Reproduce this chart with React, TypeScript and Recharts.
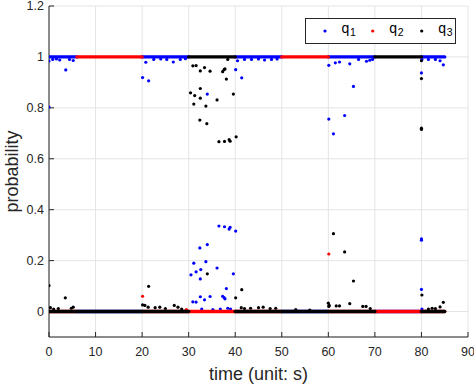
import { CartesianGrid, ComposedChart, Scatter, XAxis, YAxis } from "recharts";

type Run = [number, number, number]; // from, to, level
type Pt = [number, number]; // time, probability

const xTicks = [0, 10, 20, 30, 40, 50, 60, 70, 80, 90];
const yTicks = [0, 0.2, 0.4, 0.6, 0.8, 1, 1.2];

// stretches where a series sits flat on 0 or 1 (dense dots in the original)
const q1Runs: Run[] = [
  [0, 6, 1], [20, 30, 1], [40, 50, 1], [60, 70, 1], [80, 85, 1],
  [6, 20, 0], [50, 60, 0], [70, 80, 0],
];
const q2Runs: Run[] = [
  [6, 20, 1], [50, 60, 1],
  [0, 6, 0], [20, 30, 0], [30, 40, 0], [40, 50, 0], [60, 70, 0], [70, 80, 0], [80, 85, 0],
];
const q3Runs: Run[] = [
  [30, 40, 1], [70, 80, 1],
  [0, 30, 0], [40, 70, 0], [80, 85, 0],
];

const q1Points: Pt[] = [
  [0, 0.803], [0, 0.984], [0.8, 0.99], [1.6, 0.992], [2.3, 0.988], [3.6, 0.949], [4.4, 0.99], [5.2, 0.986],
  [20.1, 0.919], [20.8, 0.979], [21.4, 0.906], [22.5, 0.99], [24, 0.992], [25.3, 0.99], [26.7, 0.98], [28.2, 0.99], [29.3, 0.993],
  [30.5, 0.144], [31.1, 0.19], [31.6, 0.156], [32.4, 0.25], [32.6, 0.165], [32.5, 0.128], [33.7, 0.196], [34.0, 0.263],
  [36.1, 0.171], [36.5, 0.336], [37.7, 0.333], [38.7, 0.324], [38.9, 0.331], [40.1, 0.316], [39.6, 0.148],
  [30.9, 0.038], [31.6, 0.037], [32.5, 0.058], [33.4, 0.046], [34.6, 0.059], [37.3, 0.06], [37.6, 0.055], [37.8, 0.05],
  [38.1, 0.09], [38.4, 0.013], [32.8, 0.01], [35.2, 0.008], [36.8, 0.01], [39, 0.01],
  [34.0, 0.854], [40.1, 0.95],
  [41.4, 0.918], [40.5, 0.985], [42, 0.99], [43.5, 0.99], [45, 0.992], [46.3, 0.988], [47.8, 0.99], [49, 0.992],
  [60.1, 0.967], [60.1, 0.756], [61.1, 0.698], [63.5, 0.77], [64.6, 0.973], [65.4, 0.884], [61.5, 0.977], [62.4, 0.98],
  [66.5, 0.99], [68.2, 0.983], [68.9, 0.987], [69.5, 0.99],
  [80, 0.937], [80, 0.285], [80, 0.28], [80, 0.087], [80.1, 0.99], [81.5, 0.99], [83, 0.99], [84, 0.985], [84.7, 0.969], [80.1, 0.01],
];

const q2Points: Pt[] = [
  [20.1, 0.06], [29.5, 0.008], [60.1, 0.226],
];

const q3Points: Pt[] = [
  [0, 0.102], [3.5, 0.054], [0.3, 0.015], [1, 0.01], [2, 0.012], [4.8, 0.013], [5.2, 0.017],
  [20.1, 0.026], [20.6, 0.024], [21.4, 0.099], [21.3, 0.017], [22.8, 0.015], [23.8, 0.017], [25, 0.012],
  [26.9, 0.024], [27.7, 0.017], [28.5, 0.01],
  [30.9, 0.965], [31.6, 0.966], [32.5, 0.945], [33.4, 0.958], [34.6, 0.944], [37.3, 0.942], [37.6, 0.95],
  [37.8, 0.953], [38.1, 0.913], [39.6, 0.854], [30.4, 0.859], [31.3, 0.848], [32.5, 0.876], [32.5, 0.838],
  [31.1, 0.815], [33.7, 0.807], [32.4, 0.752], [33.9, 0.738], [36.1, 0.831], [36.5, 0.667], [37.7, 0.668],
  [38.7, 0.675], [38.9, 0.669], [40.2, 0.686], [38.4, 0.99],
  [34.0, 0.148], [40.1, 0.054], [41.4, 0.086],
  [41.3, 0.015], [42, 0.012], [43.3, 0.013], [45, 0.015], [46, 0.017], [47.5, 0.012], [48.7, 0.013], [53, 0.008], [56, 0.006],
  [60.0, 0.033], [60.2, 0.024], [60.1, 0.02], [61.7, 0.022], [62.4, 0.022], [61.1, 0.306], [63.5, 0.234],
  [65.4, 0.12], [64.6, 0.031], [67.4, 0.02], [68.1, 0.02], [69, 0.012],
  [80, 0.985], [80, 0.915], [80, 0.72], [80, 0.715],
  [80.1, 0.065], [84.7, 0.036], [84, 0.018], [83, 0.012], [81.5, 0.01], [82.3, 0.013],
];

const series = [
  { name: "1", color: "#0000ff", runs: q1Runs, points: q1Points },
  { name: "2", color: "#ff0000", runs: q2Runs, points: q2Points },
  { name: "3", color: "#000000", runs: q3Runs, points: q3Points },
];

const axisColor = "#262626";
const font = "'Liberation Sans', Arial, sans-serif";

const dot = (color: string) => (props: any) =>
  <circle cx={props.cx} cy={props.cy} r={1.6} fill={color} />;

function LegendBox() {
  const xs = [325, 372.7, 421.7];
  return (
    <svg width={474} height={386} style={{ position: "absolute", left: 0, top: 0, pointerEvents: "none" }}>
      <rect x={305.5} y={18.5} width={150} height={25} fill="#fff" stroke={axisColor} strokeWidth={1} />
      {series.map((s, i) => (
        <g key={s.name} fontFamily={font} fill="#000">
          <circle cx={xs[i]} cy={31} r={1.6} fill={s.color} />
          <text x={xs[i] + 16.5} y={32.5} fontSize={14}>q</text>
          <text x={xs[i] + 25} y={36} fontSize={10.5}>{s.name}</text>
        </g>
      ))}
    </svg>
  );
}

export default function App() {
  return (
    <div style={{ position: "absolute", left: 0, top: 0, width: 474, height: 386, background: "#fff" }}>
      <ComposedChart width={474} height={386} margin={{ top: 6, right: 6, bottom: 0, left: 0 }} style={{ fontFamily: font }}>
        <CartesianGrid stroke="#e4e4e4" />
        <XAxis
          type="number" dataKey="t" domain={[0, 90]} ticks={xTicks} interval={0} allowDataOverflow
          height={49} tickSize={-5} tickMargin={15} stroke={axisColor}
          tick={{ fill: axisColor, fontSize: 12.5 }}
          label={{ value: "time (unit: s)", position: "insideBottom", offset: 6, fontSize: 18, fill: axisColor }}
        />
        <YAxis
          type="number" dataKey="v" domain={[-0.1, 1.2]} ticks={yTicks} interval={0} allowDataOverflow
          width={49} tickSize={-5} tickMargin={10} stroke={axisColor}
          tick={{ fill: axisColor, fontSize: 12.5 }}
          label={{ value: "probability", angle: -90, position: "insideLeft", offset: 12, fontSize: 18, fill: axisColor, style: { textAnchor: "middle" } }}
        />
        <XAxis xAxisId="top" orientation="top" type="number" domain={[0, 90]} ticks={xTicks} interval={0}
          allowDataOverflow height={0} tickSize={-5} stroke={axisColor} tick={() => <g />} />
        <YAxis yAxisId="right" orientation="right" type="number" domain={[-0.1, 1.2]} ticks={yTicks} interval={0}
          allowDataOverflow width={0} tickSize={-5} stroke={axisColor} tick={() => <g />} />
        {series.flatMap((s) => [
          ...s.runs.map((r, i) => (
            <Scatter
              key={`run-${s.name}-${i}`}
              data={[{ t: r[0], v: r[2] }, { t: r[1], v: r[2] }]}
              fill={s.color}
              line={{ stroke: s.color, strokeWidth: 3.4, strokeLinecap: "round" }}
              shape={() => <g />}
              legendType="none"
              isAnimationActive={false}
            />
          )),
          <Scatter
            key={`pts-${s.name}`}
            name={`q${s.name}`}
            data={s.points.map(([t, v]) => ({ t, v }))}
            fill={s.color}
            shape={dot(s.color)}
            isAnimationActive={false}
          />,
        ])}
      </ComposedChart>
      <LegendBox />
    </div>
  );
}
